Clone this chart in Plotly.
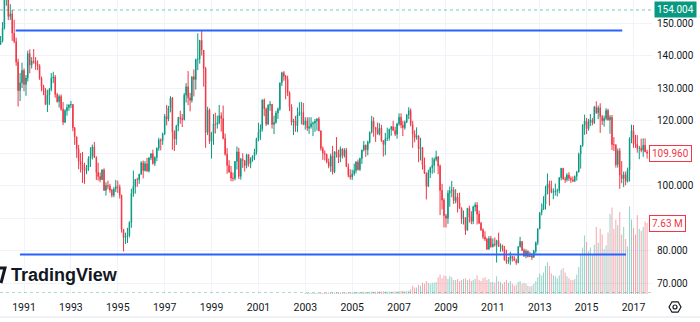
import plotly.graph_objects as go
import pandas as pd

# ---------------- data (monthly USD/JPY candles, Jan 1990 - Aug 2017) ----------------
first_open = 143.4

close = [
    144.5, 148.5, 157.6, 159.1, 152.0, 152.8, 146.9, 144.3, 138.0, 129.2, 131.6, 135.4,  # 1990
    131.1, 133.1, 140.6, 137.1, 138.3, 138.1, 137.4, 136.8, 133.0, 130.5, 129.3, 124.9,  # 1991
    127.8, 129.6, 133.0, 133.4, 128.0, 125.8, 127.4, 123.5, 119.5, 123.0, 124.0, 124.8,  # 1992
    124.9, 117.8, 115.0, 111.2, 107.4, 106.5, 104.8, 104.6, 105.6, 108.3, 109.0, 111.9,  # 1993
    108.6, 104.0, 102.8, 101.8, 104.8, 98.5, 100.0, 99.8, 98.6, 97.0, 98.9, 99.7,        # 1994
    99.5, 97.0, 86.5, 84.0, 84.5, 84.6, 88.6, 97.5, 99.7, 101.9, 101.8, 103.5,           # 1995
    107.0, 104.6, 106.7, 104.5, 108.5, 109.8, 106.8, 108.6, 111.5, 114.0, 113.8, 115.9,  # 1996
    121.3, 120.4, 123.9, 126.9, 116.4, 114.3, 118.3, 121.0, 120.6, 120.3, 127.8, 130.4,  # 1997
    127.0, 126.2, 133.5, 132.6, 138.8, 138.9, 144.7, 141.6, 136.0, 116.3, 123.2, 113.6,  # 1998
    116.0, 119.0, 118.8, 119.3, 121.5, 120.6, 114.5, 109.6, 106.2, 104.1, 102.3, 102.2,  # 1999
    107.4, 110.3, 102.8, 108.1, 107.7, 106.1, 109.5, 106.7, 108.2, 109.0, 110.4, 114.4,  # 2000
    116.4, 117.4, 126.3, 123.6, 118.9, 124.7, 125.0, 118.8, 119.4, 122.3, 123.5, 131.6,  # 2001
    134.7, 133.6, 132.7, 128.5, 124.2, 119.5, 119.9, 118.4, 121.8, 122.5, 122.5, 118.7,  # 2002
    119.9, 117.6, 118.1, 119.0, 119.2, 119.8, 120.5, 116.8, 111.4, 109.9, 109.6, 107.2,  # 2003
    105.9, 109.1, 104.2, 110.4, 109.6, 108.7, 111.3, 109.2, 110.9, 105.8, 103.1, 102.6,  # 2004
    103.6, 104.6, 107.2, 104.9, 108.3, 110.9, 112.4, 111.0, 113.4, 116.4, 119.8, 117.9,  # 2005
    117.2, 115.9, 117.7, 113.8, 112.6, 114.4, 114.6, 117.3, 118.1, 116.9, 115.8, 119.0,  # 2006
    121.0, 118.6, 117.8, 119.5, 121.7, 123.1, 118.8, 115.8, 114.8, 115.3, 111.3, 111.7,  # 2007
    106.4, 103.7, 99.7, 104.0, 105.5, 106.2, 108.0, 108.8, 106.0, 98.5, 95.5, 90.7,      # 2008
    89.9, 97.6, 98.3, 98.6, 95.3, 96.4, 94.7, 93.0, 89.8, 90.1, 86.2, 93.0,              # 2009
    90.3, 89.0, 93.4, 94.0, 91.2, 88.4, 86.4, 84.2, 83.5, 80.4, 83.7, 81.1,              # 2010
    82.0, 81.8, 83.1, 81.2, 81.5, 80.5, 77.0, 76.6, 77.0, 78.2, 77.6, 76.9,              # 2011
    76.2, 81.2, 82.8, 80.1, 78.3, 79.8, 78.1, 78.4, 77.9, 79.8, 82.4, 86.7,              # 2012
    91.7, 92.6, 94.2, 97.4, 100.4, 99.1, 97.9, 98.1, 98.3, 98.4, 102.4, 105.3,           # 2013
    102.0, 101.8, 103.2, 102.2, 101.8, 101.3, 102.8, 104.1, 109.6, 112.3, 118.6, 119.8,  # 2014
    117.5, 119.6, 120.1, 119.3, 124.1, 122.4, 123.9, 121.2, 119.9, 120.6, 123.1, 120.2,  # 2015
    121.0, 112.6, 112.5, 106.4, 110.7, 103.2, 102.1, 103.4, 101.3, 104.8, 114.5, 116.9,  # 2016
    112.8, 112.7, 111.4, 111.5, 110.8, 112.4, 110.3, 109.96,                             # 2017
]

high = [
    146.0, 150.3, 158.0, 160.3, 159.3, 155.8, 154.0, 151.0, 145.5, 139.0, 134.6, 137.8,
    136.0, 134.0, 141.5, 141.9, 139.5, 142.0, 139.5, 138.5, 137.3, 133.5, 131.0, 130.0,
    129.5, 130.0, 134.6, 135.0, 134.0, 128.5, 128.0, 128.0, 125.7, 123.5, 125.0, 125.0,
    126.0, 125.1, 118.0, 115.0, 112.5, 110.0, 110.3, 107.0, 106.3, 109.0, 111.8, 112.6,
    113.4, 109.0, 107.0, 104.0, 105.0, 105.3, 101.0, 101.5, 100.5, 99.0, 99.5, 101.7,
    101.5, 100.3, 97.2, 86.6, 85.5, 87.0, 89.0, 99.0, 104.6, 101.9, 102.4, 103.6,
    107.5, 107.7, 107.5, 108.5, 108.7, 109.9, 111.0, 109.0, 111.7, 114.7, 114.5, 116.3,
    122.0, 124.8, 124.5, 127.5, 127.2, 117.0, 118.7, 121.0, 123.0, 122.0, 128.5, 131.5,
    135.2, 128.5, 133.5, 135.7, 139.0, 146.8, 144.7, 147.7, 141.7, 136.5, 124.2, 123.7,
    116.5, 122.0, 122.4, 121.5, 124.8, 122.5, 124.6, 116.0, 111.5, 107.8, 106.0, 104.0,
    107.5, 112.0, 111.6, 108.5, 109.9, 107.7, 109.8, 109.6, 108.7, 109.3, 111.3, 114.7,
    119.3, 118.8, 126.5, 126.8, 124.0, 125.0, 126.0, 125.0, 121.5, 123.0, 124.0, 131.6,
    135.0, 135.2, 134.0, 133.8, 129.0, 125.0, 120.5, 121.4, 124.0, 125.6, 125.7, 125.4,
    121.0, 121.0, 121.0, 121.0, 119.7, 120.5, 120.7, 121.1, 117.0, 112.0, 110.8, 109.8,
    108.3, 109.8, 112.2, 110.5, 114.9, 111.0, 112.0, 111.4, 111.5, 111.6, 106.8, 105.0,
    104.9, 106.7, 107.5, 108.0, 108.6, 111.0, 113.7, 112.6, 113.8, 116.6, 121.4, 121.0,
    117.9, 119.4, 119.2, 118.7, 114.0, 116.2, 117.8, 117.5, 118.3, 119.9, 118.1, 119.3,
    122.2, 122.2, 119.9, 120.0, 122.0, 124.1, 123.7, 119.9, 117.0, 117.9, 115.4, 114.7,
    111.8, 108.6, 104.1, 104.9, 105.8, 108.6, 108.6, 110.7, 109.1, 106.5, 100.5, 96.1,
    91.3, 98.6, 99.7, 101.4, 99.5, 98.9, 97.7, 97.8, 93.3, 92.3, 90.2, 93.0,
    93.8, 92.1, 93.8, 94.8, 94.9, 92.3, 88.8, 86.8, 85.9, 83.9, 84.4, 84.5,
    83.7, 84.0, 83.3, 85.5, 82.2, 81.8, 81.4, 80.2, 78.0, 79.6, 78.3, 78.3,
    77.5, 81.2, 84.2, 82.8, 80.6, 80.4, 80.0, 79.6, 79.2, 80.2, 82.8, 86.6,
    91.7, 94.5, 96.7, 99.9, 103.7, 101.5, 101.5, 99.1, 100.6, 99.0, 102.6, 105.4,
    105.4, 102.7, 103.8, 104.1, 102.8, 102.8, 103.1, 104.5, 110.1, 112.5, 118.9, 121.8,
    120.8, 120.5, 122.0, 120.8, 124.5, 125.9, 124.6, 125.3, 121.7, 121.5, 123.8, 123.6,
    121.7, 121.7, 114.9, 112.7, 111.4, 111.5, 107.5, 104.3, 104.3, 105.5, 114.8, 118.7,
    118.6, 115.6, 115.5, 112.2, 114.4, 114.5, 114.5, 111.0,
]

low = [
    143.3, 144.0, 148.0, 155.3, 150.9, 150.9, 144.5, 143.8, 136.8, 124.3, 126.0, 130.0,
    129.0, 127.6, 132.0, 134.5, 136.0, 137.5, 135.6, 135.5, 132.5, 129.0, 127.8, 124.9,
    122.6, 124.8, 129.0, 131.5, 127.0, 125.5, 124.0, 123.0, 118.6, 119.2, 121.5, 123.0,
    123.8, 116.7, 112.5, 108.5, 105.0, 104.0, 100.8, 100.5, 103.5, 104.5, 105.7, 108.0,
    108.5, 101.7, 101.5, 101.0, 101.7, 98.4, 96.9, 98.8, 97.8, 96.3, 96.4, 98.0,
    97.7, 96.0, 85.5, 79.7, 82.0, 82.3, 84.0, 87.0, 96.5, 97.5, 99.6, 100.5,
    103.3, 102.2, 104.3, 104.2, 104.0, 107.8, 106.4, 106.0, 107.5, 110.7, 110.8, 112.5,
    115.5, 118.5, 119.8, 122.5, 111.0, 110.6, 112.5, 116.7, 119.0, 118.0, 120.0, 125.5,
    124.7, 122.8, 125.5, 127.4, 129.5, 135.5, 137.5, 140.0, 130.4, 111.6, 115.5, 112.8,
    108.3, 112.5, 116.0, 117.5, 118.8, 116.6, 114.2, 109.2, 103.6, 104.0, 101.3, 101.3,
    101.6, 104.9, 102.0, 101.8, 105.4, 104.3, 105.3, 105.8, 105.3, 107.3, 107.8, 109.5,
    113.6, 114.0, 116.6, 121.3, 118.3, 118.6, 123.0, 117.5, 115.8, 119.0, 120.5, 123.0,
    130.6, 132.2, 126.5, 127.5, 122.9, 118.5, 115.5, 116.5, 116.4, 121.4, 118.8, 118.7,
    117.2, 116.8, 115.9, 117.5, 115.2, 116.5, 116.9, 116.7, 110.7, 107.9, 107.7, 106.8,
    105.3, 104.2, 103.4, 103.8, 108.6, 106.9, 107.2, 108.3, 108.6, 105.8, 102.5, 101.8,
    101.7, 103.0, 103.7, 104.6, 104.5, 106.6, 110.5, 108.8, 109.3, 112.9, 116.0, 115.0,
    113.4, 115.6, 115.4, 113.4, 108.9, 109.3, 113.7, 113.8, 115.3, 116.9, 115.2, 114.4,
    118.4, 117.6, 115.2, 117.2, 119.2, 120.4, 118.2, 111.6, 113.3, 114.1, 107.2, 107.7,
    104.9, 103.6, 95.7, 99.9, 102.3, 103.6, 103.9, 107.4, 103.5, 90.9, 92.6, 87.1,
    87.1, 88.2, 93.5, 96.4, 94.3, 94.5, 91.7, 92.8, 88.2, 88.0, 84.8, 86.4,
    88.6, 88.1, 88.1, 92.0, 88.0, 88.2, 86.0, 83.5, 82.9, 80.2, 80.3, 80.9,
    81.0, 81.2, 76.3, 81.2, 79.6, 79.7, 77.0, 75.9, 75.9, 75.6, 76.6, 76.9,
    75.6, 76.1, 80.9, 79.8, 78.0, 77.6, 77.9, 78.0, 77.1, 77.8, 79.1, 81.7,
    86.5, 90.8, 92.6, 92.6, 97.3, 93.8, 97.6, 95.8, 96.9, 96.6, 97.6, 101.6,
    101.8, 100.8, 101.2, 101.4, 100.8, 101.1, 101.1, 101.5, 104.2, 105.2, 111.9, 115.6,
    115.8, 116.9, 118.3, 118.5, 118.9, 122.0, 120.4, 116.2, 118.6, 118.1, 120.1, 119.9,
    115.9, 110.9, 110.6, 105.5, 105.5, 99.0, 100.7, 99.5, 100.1, 100.9, 101.2, 113.0,
    111.6, 111.6, 110.1, 108.1, 110.2, 108.8, 110.6, 108.3,
]

# volume (millions), only present from Jan 2003
volume = [
    0.10, 0.10, 0.12, 0.10, 0.11, 0.10, 0.10, 0.12, 0.14, 0.12, 0.10, 0.11,  # 2003
    0.15, 0.14, 0.16, 0.15, 0.17, 0.14, 0.15, 0.14, 0.15, 0.16, 0.15, 0.14,  # 2004
    0.20, 0.18, 0.22, 0.20, 0.22, 0.21, 0.24, 0.22, 0.20, 0.23, 0.26, 0.25,  # 2005
    0.25, 0.24, 0.26, 0.28, 0.30, 0.27, 0.25, 0.26, 0.24, 0.26, 0.27, 0.28,  # 2006
    0.30, 0.32, 0.35, 0.30, 0.32, 0.35, 0.50, 0.90, 0.70, 0.70, 1.00, 0.90,  # 2007
    1.20, 1.10, 1.40, 1.20, 1.10, 1.20, 1.20, 1.30, 1.80, 2.10, 1.70, 2.00,  # 2008
    1.90, 1.60, 1.90, 1.80, 1.50, 1.50, 1.60, 1.40, 1.50, 1.60, 1.70, 1.50,  # 2009
    1.60, 1.40, 1.50, 1.60, 2.00, 1.50, 1.40, 1.70, 1.80, 1.50, 1.60, 1.30,  # 2010
    1.30, 1.20, 1.90, 1.40, 1.30, 1.10, 1.30, 1.50, 1.20, 1.40, 1.10, 0.90,  # 2011
    1.00, 1.30, 1.40, 1.10, 1.20, 1.10, 0.90, 0.80, 0.90, 1.10, 1.40, 1.80,  # 2012
    2.20, 2.00, 2.30, 3.00, 3.40, 3.00, 2.20, 2.00, 1.90, 1.70, 2.00, 2.60,  # 2013
    2.80, 2.30, 1.90, 1.70, 1.50, 1.50, 1.60, 2.10, 2.90, 4.20, 5.00, 6.30,  # 2014
    5.60, 4.60, 5.00, 4.30, 5.30, 7.20, 5.50, 7.00, 6.40, 4.80, 5.20, 6.60,  # 2015
    8.60, 9.30, 7.00, 8.00, 7.40, 8.80, 6.40, 7.20, 5.90, 5.10, 9.40, 8.00,  # 2016
    7.10, 6.40, 8.50, 7.00, 6.80, 7.20, 7.80, 7.63,                          # 2017
]

year_ticks = ["1991-01-01", "1993-01-01", "1995-01-01", "1997-01-01", "1999-01-01",
              "2001-01-01", "2003-01-01", "2005-01-01", "2007-01-01", "2009-01-01",
              "2011-01-01", "2013-01-01", "2015-01-01", "2017-01-01"]
year_labels = ["1991", "1993", "1995", "1997", "1999", "2001", "2003", "2005",
               "2007", "2009", "2011", "2013", "2015", "2017"]
price_ticks = [70, 80, 90, 100, 110, 120, 130, 140, 150]
# 90 and 110 are hidden behind the last-volume / last-price labels
price_labels = ["70.000", "80.000", "", "100.000", "", "120.000",
                "130.000", "140.000", "150.000"]

# drawn trend lines (date, price)
top_line_x = ["1990-08-24", "2016-07-10"]
top_line_y = [147.7, 147.7]
bottom_line_x = ["1990-10-30", "2016-09-06"]
bottom_line_y = [78.8, 78.8]

high_marker = 154.004
last_price = 109.96
last_volume = 7.63

# ---------------- build ----------------
months = pd.date_range("1990-01-01", periods=len(close), freq="MS")
vol_months = pd.date_range("2003-01-01", periods=len(volume), freq="MS")
open_ = [first_open] + close[:-1]
high = [max(h, o, c) for h, o, c in zip(high, open_, close)]
low = [min(l, o, c) for l, o, c in zip(low, open_, close)]

UP = "#089981"
DN = "#F23645"
UP_V = "rgba(8,153,129,0.45)"
DN_V = "rgba(242,54,69,0.45)"

dir_by_month = {m: (c >= o) for m, o, c in zip(months, open_, close)}
vol_colors = [UP_V if dir_by_month[m] else DN_V for m in vol_months]

W, H = 700, 322
ML, MR, MT, MB = 0, 48, 0, 28
PW, PH = W - ML - MR, H - MT - MB


def px(xp):
    return (xp - ML) / PW


def py(yp):
    return 1 - (yp - MT) / PH


fig = go.Figure()
fig.add_trace(go.Bar(
    x=vol_months, y=volume, marker=dict(color=vol_colors, line=dict(width=0)),
    yaxis="y", hoverinfo="skip", showlegend=False,
))
fig.add_trace(go.Candlestick(
    x=months, open=open_, high=high, low=low, close=close, yaxis="y2",
    increasing=dict(line=dict(color=UP, width=1), fillcolor=UP),
    decreasing=dict(line=dict(color=DN, width=1), fillcolor=DN),
    whiskerwidth=0, hoverinfo="skip", showlegend=False,
))

# price axis mapping: 150 at y=23px, 70 at y=283px
ppu = (283 - 23) / 80.0
y_top = 150 + (23 - MT) / ppu
y_bot = 150 - (MT + PH - 23) / ppu
# volume axis mapping: 7.63M bar top at y=223px
vpp = last_volume / (MT + PH - 223)
v_top = PH * vpp

x_start = pd.Timestamp("1991-01-01") - pd.Timedelta(days=365.25 * 24 / 23.44)
x_end = pd.Timestamp("2017-01-01") + pd.Timedelta(days=365.25 * (PW - 633.5) / 23.44)

GRID = "#f0f3fa"
TXT = "#131722"

fig.update_layout(
    width=W, height=H, margin=dict(l=ML, r=MR, t=MT, b=MB, pad=0),
    paper_bgcolor="white", plot_bgcolor="white", showlegend=False,
    bargap=0.45, boxgap=0.55,
    font=dict(family="Roboto, Liberation Sans, Arial", color=TXT),
    xaxis=dict(
        type="date", range=[x_start, x_end], rangeslider=dict(visible=False),
        tickvals=year_ticks, ticktext=year_labels, showgrid=True, gridcolor=GRID,
        gridwidth=1, zeroline=False, showline=False, ticks="",
        tickfont=dict(size=10.5, color=TXT), ticklabelstandoff=5,
    ),
    yaxis=dict(range=[0, v_top], visible=False, showgrid=False, fixedrange=True),
    yaxis2=dict(
        overlaying="y", side="right", range=[y_bot, y_top],
        tickvals=price_ticks, ticktext=price_labels, showgrid=True, gridcolor=GRID,
        zeroline=False, showline=False, ticks="", ticklabelstandoff=4,
        tickfont=dict(size=10, color=TXT),
    ),
)

shapes = [
    dict(type="line", xref="x", yref="y2", x0=top_line_x[0], x1=top_line_x[1],
         y0=top_line_y[0], y1=top_line_y[1], line=dict(color="#2962FF", width=2)),
    dict(type="line", xref="x", yref="y2", x0=bottom_line_x[0], x1=bottom_line_x[1],
         y0=bottom_line_y[0], y1=bottom_line_y[1], line=dict(color="#2962FF", width=2)),
    dict(type="line", xref="paper", yref="y2", x0=0, x1=1, y0=high_marker, y1=high_marker,
         line=dict(color="rgba(8,153,129,0.55)", width=1, dash="dot")),
    dict(type="line", xref="paper", yref="paper", x0=0, x1=1, y0=py(292.5), y1=py(292.5),
         line=dict(color="rgba(8,153,129,0.35)", width=1, dash="dot")),
    dict(type="line", xref="paper", yref="paper", x0=px(0), x1=px(W), y0=py(317), y1=py(317),
         line=dict(color="#e0e3eb", width=1)),
]
# partial logo mark at left edge of the watermark
logo = f"M {px(-2):.5f},{py(268):.5f} L {px(5):.5f},{py(268):.5f} L {px(1):.5f},{py(283):.5f}"
shapes.append(dict(type="path", xref="paper", yref="paper", path=logo,
                   line=dict(color=TXT, width=3)))
# settings (gear) icon at bottom right
cx, cy, r = 675, 307, 6
hexpts = [(cx - r, cy), (cx - r / 2, cy - r * 0.87), (cx + r / 2, cy - r * 0.87),
          (cx + r, cy), (cx + r / 2, cy + r * 0.87), (cx - r / 2, cy + r * 0.87)]
path = "M " + " L ".join(f"{px(a):.5f},{py(b):.5f}" for a, b in hexpts) + " Z"
shapes.append(dict(type="path", xref="paper", yref="paper", path=path,
                   line=dict(color=TXT, width=1.2)))
shapes.append(dict(type="circle", xref="paper", yref="paper",
                   x0=px(cx - 2), x1=px(cx + 2), y0=py(cy + 2), y1=py(cy - 2),
                   line=dict(color=TXT, width=1.2)))
fig.update_layout(shapes=shapes)

annotations = [
    dict(text=f"{high_marker:.3f}", xref="paper", yref="y2", x=1, y=high_marker,
         xanchor="left", yanchor="middle", xshift=2, showarrow=False,
         bgcolor=UP, font=dict(color="white", size=10), borderpad=2),
    dict(text=f"{last_price:.3f}", xref="paper", yref="y2", x=1, y=last_price,
         xanchor="left", yanchor="middle", xshift=-3, showarrow=False,
         bgcolor="white", bordercolor=DN, borderwidth=1, borderpad=2,
         font=dict(color=DN, size=10)),
    dict(text=f"{last_volume:.2f} M", xref="paper", yref="y", x=1, y=last_volume,
         xanchor="left", yanchor="middle", xshift=-3, showarrow=False,
         bgcolor="white", bordercolor=DN, borderwidth=1, borderpad=2,
         font=dict(color=DN, size=10)),
    dict(text="<b>TradingView</b>", xref="paper", yref="paper", x=px(9), y=py(275),
         xanchor="left", yanchor="middle", showarrow=False,
         font=dict(family="Liberation Sans, Arial", size=18, color=TXT)),
]
fig.update_layout(annotations=annotations)

fig.write_html("out.html")
